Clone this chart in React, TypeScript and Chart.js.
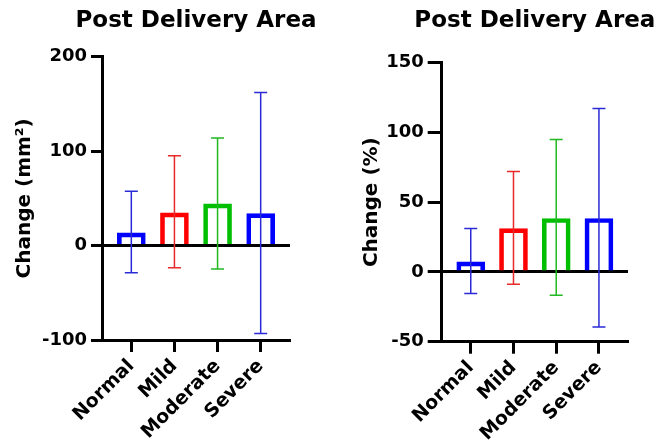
import React, { useEffect, useRef } from "react";
import { Chart, registerables } from "chart.js";

Chart.register(...registerables);

// Groups along the x axis
const categories = ["Normal", "Mild", "Moderate", "Severe"];
const barColors = ["#0000ff", "#ff0000", "#00bf00", "#0000ff"];
const errorColors = ["#2a2ad6", "#e82a2a", "#22b822", "#2a2ad6"];

// Change in area (mm²): mean with upper / lower error limits
const areaMean = [13.4, 34.6, 44.1, 33.9];
const areaUpper = [57.5, 95.2, 114.0, 162.2];
const areaLower = [-28.9, -23.6, -24.7, -93.0];
const areaTicks = [-100, 0, 100, 200];

// Change in area (%): mean with upper / lower error limits
const pctMean = [7.2, 31.1, 38.3, 38.3];
const pctUpper = [31.1, 72.0, 95.0, 117.2];
const pctLower = [-15.5, -8.8, -16.7, -39.4];
const pctTicks = [-50, 0, 50, 100, 150];

const FONT = '"DejaVu Sans", "Liberation Sans", Arial, sans-serif';

// Vertical error bars with caps, drawn through the chart's own scales
const errorBarsPlugin = {
  id: "errorBars",
  afterDatasetsDraw(chart: any, _args: any, opts: any) {
    const { ctx } = chart;
    const yScale = chart.scales.y;
    const meta = chart.getDatasetMeta(0);
    ctx.save();
    ctx.lineWidth = 1.5;
    meta.data.forEach((bar: any, i: number) => {
      const x = bar.x;
      const yt = yScale.getPixelForValue(opts.upper[i]);
      const yb = yScale.getPixelForValue(opts.lower[i]);
      const cap = 6.5;
      ctx.strokeStyle = opts.colors[i];
      ctx.beginPath();
      ctx.moveTo(x, yt);
      ctx.lineTo(x, yb);
      ctx.moveTo(x - cap, yt);
      ctx.lineTo(x + cap, yt);
      ctx.moveTo(x - cap, yb);
      ctx.lineTo(x + cap, yb);
      ctx.stroke();
    });
    ctx.restore();
  },
};

// Panel heading centred over the plot area
const headingPlugin = {
  id: "heading",
  afterDraw(chart: any, _args: any, opts: any) {
    const { ctx, chartArea } = chart;
    ctx.save();
    ctx.font = `bold 23px ${FONT}`;
    ctx.fillStyle = "#000";
    ctx.textAlign = "center";
    ctx.textBaseline = "alphabetic";
    ctx.fillText(opts.text, (chartArea.left + chartArea.right) / 2, opts.baseline);
    ctx.restore();
  },
};

type PanelProps = {
  width: number;
  mean: number[];
  upper: number[];
  lower: number[];
  ticks: number[];
  yTitle: string;
  yWidth: number;
  xHeight: number;
  padRight: number;
  padTop: number;
  titlePad: number;
  tickLen: number;
};

function Panel(p: PanelProps) {
  const ref = useRef<HTMLCanvasElement | null>(null);

  useEffect(() => {
    if (!ref.current) return;
    const yMin = p.ticks[0];
    const yMax = p.ticks[p.ticks.length - 1];
    const step = p.ticks[1] - p.ticks[0];
    const chart = new Chart(ref.current, {
      type: "bar",
      data: {
        datasets: [
          {
            data: p.mean.map((v, i) => ({ x: i, y: v })),
            backgroundColor: "rgba(255,255,255,0)",
            borderColor: barColors,
            borderWidth: 4,
            borderSkipped: "bottom",
            barThickness: 28,
          },
        ],
      },
      options: {
        animation: false,
        responsive: false,
        devicePixelRatio: 1,
        layout: { padding: { left: 0, right: p.padRight, top: p.padTop, bottom: 0 } },
        plugins: {
          legend: { display: false },
          tooltip: { enabled: false },
          title: { display: false },
          errorBars: { upper: p.upper, lower: p.lower, colors: errorColors },
          heading: { text: "Post Delivery Area", baseline: 27 },
        } as any,
        scales: {
          x: {
            type: "linear",
            min: -0.68,
            max: categories.length - 1 + 0.68,
            offset: false,
            grid: {
              offset: false,
              drawOnChartArea: false,
              drawTicks: true,
              tickLength: 12,
              tickWidth: 3,
              tickColor: "#000",
            },
            border: { display: true, color: "#000", width: 3 },
            ticks: {
              stepSize: 1,
              autoSkip: false,
              includeBounds: false,
              minRotation: 45,
              maxRotation: 45,
              padding: 3,
              color: "#000",
              font: { family: FONT, size: 19, weight: "bold" },
              callback: (v: any) => categories[v as number] ?? "",
            },
            afterBuildTicks: (scale: any) => {
              scale.ticks = scale.ticks.filter(
                (t: any) => Number.isInteger(t.value) && t.value >= 0 && t.value < categories.length
              );
            },
            afterFit: (scale: any) => {
              scale.height = p.xHeight;
            },
          },
          y: {
            type: "linear",
            min: yMin,
            max: yMax,
            z: 1,
            grid: {
              drawOnChartArea: true,
              drawTicks: true,
              tickLength: p.tickLen,
              tickWidth: 3,
              tickColor: "#000",
              lineWidth: 3,
              color: (c: any) => (c.tick && c.tick.value === 0 ? "#000" : "rgba(0,0,0,0)"),
            },
            border: { display: true, color: "#000", width: 3 },
            ticks: {
              stepSize: step,
              padding: 4,
              color: "#000",
              font: { family: FONT, size: 18, weight: "bold" },
            },
            title: {
              display: true,
              text: p.yTitle,
              color: "#000",
              font: { family: FONT, size: 20, weight: "bold" },
              padding: { top: p.titlePad, bottom: 0 },
            },
            afterFit: (scale: any) => {
              scale.width = p.yWidth;
            },
          },
        },
      },
      plugins: [errorBarsPlugin, headingPlugin],
    });
    return () => chart.destroy();
  }, []);

  return <canvas ref={ref} width={p.width} height={440} style={{ display: "block" }} />;
}

export default function App() {
  return (
    <div
      style={{
        position: "absolute",
        left: 0,
        top: 0,
        width: 655,
        height: 440,
        background: "#fff",
        display: "flex",
        overflow: "hidden",
      }}
    >
      <Panel
        width={330}
        mean={areaMean}
        upper={areaUpper}
        lower={areaLower}
        ticks={areaTicks}
        yTitle="Change (mm²)"
        yWidth={102}
        xHeight={100}
        padRight={40}
        padTop={56.7}
        titlePad={13}
        tickLen={11}
      />
      <Panel
        width={325}
        mean={pctMean}
        upper={pctUpper}
        lower={pctLower}
        ticks={pctTicks}
        yTitle="Change (%)"
        yWidth={111.7}
        xHeight={98.3}
        padRight={27}
        padTop={62.7}
        titlePad={30}
        tickLen={14}
      />
    </div>
  );
}
